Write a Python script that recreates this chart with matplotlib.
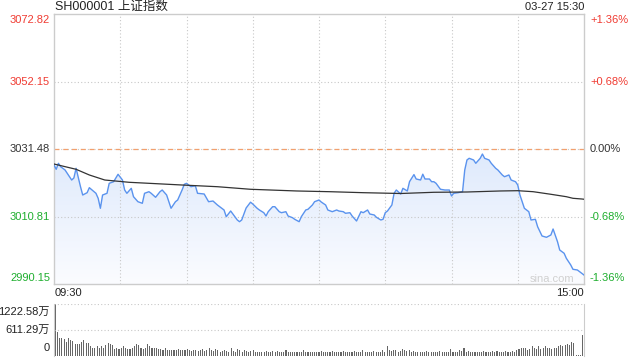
import numpy as np
import matplotlib.pyplot as plt
from matplotlib.colors import LinearSegmentedColormap

plt.rcParams['font.family'] = ['Liberation Sans', 'Noto Sans CJK SC']

# minute index (0 = 09:30, 240 = 15:00) and price
price_min = [0, 1, 2, 3, 5, 6, 8, 9, 10, 12, 13, 15, 16, 19, 20, 21, 22, 24, 25, 27,
             29, 31, 32, 33, 35, 36, 38, 40, 41, 43, 44, 46, 48, 49, 51, 52, 53, 55, 56, 58,
             59, 60, 62, 64, 65, 68, 70, 72, 74, 77, 78, 80, 81, 83, 84, 85, 87, 89, 90, 92,
             93, 95, 96, 97, 99, 100, 102, 103, 105, 106, 108, 109, 111, 112, 114, 115, 117, 118, 120, 121,
             123, 124, 126, 128, 129, 131, 132, 134, 135, 137, 139, 140, 142, 143, 145, 146, 148, 149, 150, 151,
             153, 154, 155, 157, 158, 160, 161, 163, 164, 166, 167, 168, 170, 171, 172, 173, 175, 177, 179, 180,
             181, 183, 185, 186, 187, 188, 190, 191, 193, 194, 195, 197, 198, 200, 201, 203, 204, 206, 207, 209,
             210, 211, 212, 213, 215, 216, 218, 219, 221, 223, 225, 226, 228, 229, 231, 232, 234, 235, 237, 239,
             240]
price = [3026.59, 3025.27, 3027.11, 3026.07, 3025.06, 3024.05, 3021.99, 3022.61, 3025.58, 3019.94,
         3017.40, 3018.11, 3019.64, 3017.92, 3016.39, 3013.33, 3017.40, 3017.92, 3020.98, 3021.47,
         3023.74, 3021.99, 3018.93, 3017.92, 3019.45, 3016.88, 3015.35, 3014.86, 3017.92, 3018.41,
         3017.92, 3016.70, 3018.41, 3018.93, 3017.40, 3015.35, 3013.33, 3015.35, 3015.87, 3018.93,
         3020.68, 3020.98, 3019.94, 3020.25, 3017.92, 3017.71, 3015.35, 3015.56, 3014.34, 3012.81,
         3010.76, 3012.50, 3011.58, 3009.75, 3009.23, 3009.75, 3013.42, 3015.20, 3014.65, 3013.33,
         3012.81, 3011.98, 3010.97, 3012.29, 3013.82, 3013.82, 3012.29, 3011.98, 3012.29, 3010.97,
         3010.45, 3009.96, 3009.23, 3010.76, 3012.81, 3013.02, 3014.34, 3015.35, 3015.87, 3015.26,
         3014.34, 3012.81, 3012.29, 3012.81, 3012.50, 3012.29, 3011.80, 3011.98, 3010.97, 3009.44,
         3012.29, 3011.98, 3012.81, 3011.58, 3011.28, 3010.57, 3009.75, 3009.96, 3011.98, 3012.50,
         3014.34, 3017.92, 3018.93, 3017.71, 3019.45, 3018.63, 3021.50, 3023.65, 3022.30, 3021.99,
         3023.77, 3022.30, 3022.30, 3021.47, 3021.47, 3020.98, 3019.15, 3018.93, 3018.93, 3017.10,
         3017.92, 3018.11, 3018.41, 3025.06, 3028.12, 3028.64, 3028.12, 3027.11, 3028.64, 3029.95,
         3028.64, 3028.12, 3027.11, 3025.58, 3025.06, 3023.53, 3023.00, 3023.53, 3021.99, 3021.47,
         3020.46, 3017.40, 3015.35, 3013.33, 3012.29, 3009.75, 3009.96, 3007.69, 3004.85, 3004.45,
         3005.16, 3006.99, 3003.10, 3000.56, 2999.55, 2998.02, 2995.97, 2994.65, 2994.44, 2993.43,
         2992.90]

# average price line
avg_min = [0, 10, 16, 23, 34, 43, 58, 74, 89, 110, 125, 140, 157, 172, 187, 202, 210, 217, 225, 232, 235, 239, 240]
avg_price = [3026.89, 3025.27, 3023.53, 3021.99, 3021.29, 3020.98, 3020.46, 3019.94, 3019.15, 3018.63,
             3018.41, 3018.11, 3017.86, 3018.23, 3018.32, 3018.63, 3018.72, 3018.41, 3017.62, 3016.88,
             3016.39, 3016.18, 3016.10]

# volume per minute (万)
volume = [1222.58, 564, 430, 415, 400, 330, 430, 368, 345, 290,
          274, 274, 330, 368, 313, 305, 227, 196, 188, 227,
          196, 227, 196, 250, 305, 290, 250, 172, 188, 172,
          196, 227, 196, 172, 172, 188, 227, 274, 258, 196,
          172, 188, 274, 227, 196, 180, 196, 172, 164, 149,
          180, 133, 149, 133, 149, 133, 172, 149, 133, 149,
          172, 133, 117, 149, 133, 117, 133, 164, 117, 133,
          196, 149, 117, 164, 133, 102, 117, 149, 117, 94,
          196, 117, 102, 164, 133, 102, 149, 117, 94, 117,
          133, 86, 94, 102, 86, 94, 117, 102, 94, 109,
          94, 117, 86, 102, 94, 133, 94, 102, 86, 94,
          102, 86, 94, 149, 94, 86, 102, 94, 86, 94,
          102, 117, 94, 102, 86, 94, 117, 102, 94, 86,
          94, 117, 102, 86, 94, 102, 117, 94, 86, 102,
          133, 94, 102, 86, 94, 117, 94, 102, 86, 149,
          102, 227, 133, 117, 149, 133, 102, 117, 172, 133,
          117, 133, 102, 117, 94, 102, 86, 94, 102, 117,
          94, 94, 102, 86, 94, 117, 94, 86, 94, 86,
          172, 86, 102, 94, 133, 117, 196, 94, 117, 102,
          94, 102, 94, 102, 94, 117, 102, 94, 102, 117,
          102, 117, 94, 102, 94, 117, 102, 94, 117, 102,
          133, 172, 196, 196, 196, 133, 172, 227, 196, 172,
          227, 172, 196, 227, 196, 196, 172, 196, 196, 227,
          250, 227, 250, 274, 250, 321, 313,
          20, 20, 20, 485]

prev_close = 3031.48
y_ticks = [3072.82, 3052.15, 3031.48, 3010.81, 2990.15]
pct_labels = ['+1.36%', '+0.68%', '0.00%', '-0.68%', '-1.36%']
tick_colors = ['#f03b32', '#f03b32', '#333333', '#1eae2e', '#1eae2e']
vol_labels = ['1222.58万', '611.29万', '0']

W, H = 640, 360
fig = plt.figure(figsize=(6.4, 3.6), dpi=100)


def px(x, y):
    return x / W, 1 - y / H


def put(x, y, s, **kw):
    fig.text(*px(x, y), s, va='center', **kw)


ax = fig.add_axes([54 / W, 1 - 284 / H, 530 / W, 270 / H])
axv = fig.add_axes([54 / W, 1 - 356 / H, 530 / W, 52 / H])

# price panel
grid_kw = dict(color='#c8c8c8', lw=0.8, ls=(0, (1, 2)))
for m in range(30, 240, 30):
    ax.axvline(m, **grid_kw)
ax.axhline(y_ticks[1], **grid_kw)
ax.axhline(y_ticks[3], **grid_kw)
ax.axhline(prev_close, **grid_kw)
ax.axhline(prev_close, color='#f2a06e', lw=0.9, ls=(0, (4, 3)))

poly = ax.fill_between(price_min, price, y_ticks[-1], color='none', lw=0)
cmap = LinearSegmentedColormap.from_list('fill', ['#fbfcff', '#dfeafc'])
grad = np.linspace(1, 0, 256).reshape(-1, 1)
im = ax.imshow(grad, extent=[0, 240, y_ticks[-1], max(price)], aspect='auto',
               cmap=cmap, origin='upper', zorder=1)
im.set_clip_path(poly.get_paths()[0], transform=ax.transData)

ax.plot(price_min, price, color='#5a93ee', lw=1.0, zorder=3)
ax.plot(avg_min, avg_price, color='#333333', lw=0.9, zorder=4)

ax.set_xlim(0, 240)
ax.set_ylim(y_ticks[-1], y_ticks[0])
ax.set_xticks([])
ax.set_yticks([])
for s in ax.spines.values():
    s.set_color('#cccccc')
    s.set_linewidth(1)

# volume panel
axv.bar(range(len(volume)), volume, width=0.5, color='#666666')
axv.axhline(volume[0], **grid_kw)
axv.axhline(volume[0] / 2, **grid_kw)
axv.set_xlim(-0.6, 240.6)
axv.set_ylim(0, volume[0])
axv.set_xticks([])
axv.set_yticks([])
axv.spines['top'].set_visible(False)
axv.spines['bottom'].set_visible(False)
for k in ['left', 'right']:
    axv.spines[k].set_color('#cccccc')

# labels
label_y = [20, 82, 149, 217, 278]
for yy, v, p, c in zip(label_y, y_ticks, pct_labels, tick_colors):
    put(50, yy, '%.2f' % v, ha='right', fontsize=8, color=c)
    put(590, yy, p, ha='left', fontsize=8, color=c)

for yy, s in zip([312, 330, 348], vol_labels):
    put(50, yy, s, ha='right', fontsize=8, color='#222222')

put(55, 293, '09:30', ha='left', fontsize=8, color='#222222')
put(584, 293, '15:00', ha='right', fontsize=8, color='#222222')
put(55, 7, 'SH000001 上证指数', ha='left', fontsize=9, color='#222222')
put(584, 7, '03-27 15:30', ha='right', fontsize=8, color='#222222')
put(574, 279, 'sina.com', ha='right', fontsize=8, color='#d0d0d0')

fig.savefig('out.png', dpi=100)
